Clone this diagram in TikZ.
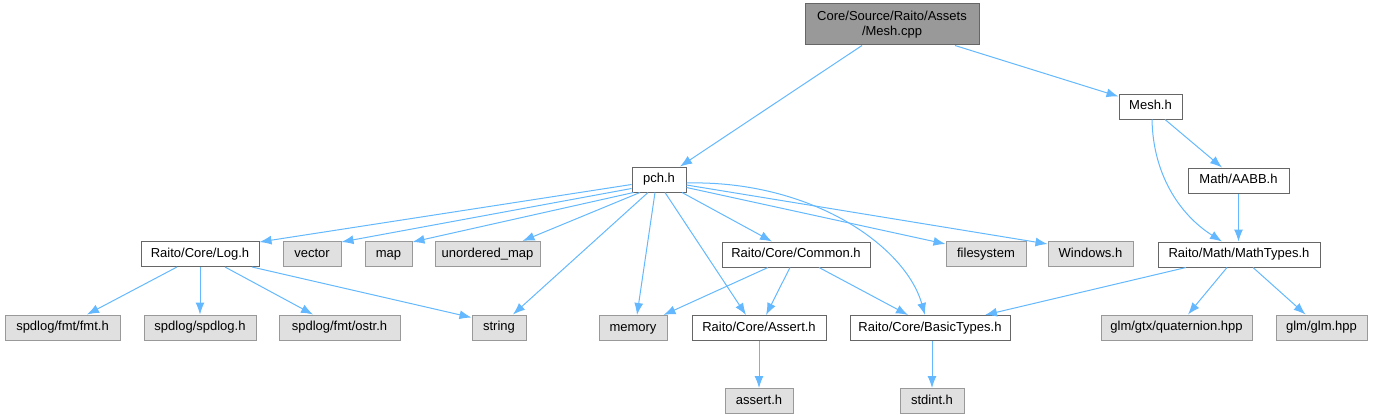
\documentclass[tikz,border=0pt]{standalone}
\usepackage{fontspec}
\setmainfont{Liberation Sans}
\usetikzlibrary{arrows.meta}
\definecolor{edgeblue}{HTML}{63B8FF}
\definecolor{bordA}{HTML}{666666}
\definecolor{bordB}{HTML}{999999}
\definecolor{fillB}{HTML}{E0E0E0}
\definecolor{fillR}{HTML}{999999}
\begin{document}
\begin{tikzpicture}[x=1pt,y=-1pt,
  base/.style={line width=1pt, inner sep=0pt, font=\fontsize{13}{15}\selectfont},
  box/.style={base, draw=bordA, fill=white, minimum height=25pt, text height=9.4pt, text depth=2.8pt},
  ext/.style={box, draw=bordB, fill=fillB},
  rootbox/.style={base, fill=fillR, draw=bordA, minimum height=41pt, align=center},
  edge/.style={draw=edgeblue, line width=1pt, -{Latex[length=12pt,width=9pt]}}]
\useasboundingbox (0,0) rectangle (1373,420);
% nodes
\node[rootbox, minimum width=174pt] (root) at (892,24.5) {Core/Source/Raito/Assets\\/Mesh.cpp};
\node[box, minimum width=54pt] (pch) at (659,179.5) {pch.h};
\node[box, minimum width=63pt] (mesh) at (1150.5,106.5) {Mesh.h};
\node[box, minimum width=101pt] (aabb) at (1238.5,180.5) {Math/AABB.h};
\node[box, minimum width=162pt] (mathtypes) at (1239,254.5) {Raito/Math/MathTypes.h};
\node[ext, minimum width=151pt] (quat) at (1176.5,327.5) {glm/gtx/quaternion.hpp};
\node[ext, minimum width=91pt] (glm) at (1321.5,327.5) {glm/glm.hpp};
\node[ext, minimum width=85pt] (windows) at (1090.5,254) {Windows.h};
\node[ext, minimum width=80pt] (filesystem) at (986,254) {filesystem};
\node[box, minimum width=118pt] (log) at (200,254) {Raito/Core/Log.h};
\node[ext, minimum width=58pt] (vector) at (312,254) {vector};
\node[ext, minimum width=47pt] (map) at (388.5,254) {map};
\node[ext, minimum width=105pt] (umap) at (487.5,254) {unordered\_map};
\node[box, minimum width=148pt] (common) at (796,254.5) {Raito/Core/Common.h};
\node[ext, minimum width=115pt] (fmt) at (62.5,327.5) {spdlog/fmt/fmt.h};
\node[ext, minimum width=112pt] (spdlog) at (200,327.5) {spdlog/spdlog.h};
\node[ext, minimum width=121pt] (ostr) at (339.5,327.5) {spdlog/fmt/ostr.h};
\node[ext, minimum width=54pt] (string) at (499,327.5) {string};
\node[ext, minimum width=68pt] (memory) at (633,328) {memory};
\node[box, minimum width=134pt] (assert) at (759,328) {Raito/Core/Assert.h};
\node[box, minimum width=160pt] (basic) at (930,328) {Raito/Core/BasicTypes.h};
\node[ext, minimum width=68pt] (asserth) at (759,401) {assert.h};
\node[ext, minimum width=64pt] (stdint) at (932,401) {stdint.h};
% edges
\draw[edge] ([xshift=-30]root.south) -- ([xshift=21]pch.north);
\draw[edge] ([xshift=63]root.south) -- ([yshift=-3]mesh.north west);
\draw[edge] ([xshift=14.5]mesh.south) -- ([xshift=-16.5]aabb.north);
\draw[edge] ([xshift=1.5]mesh.south) .. controls (1153,175) and (1180,215) .. ([xshift=-17]mathtypes.north);
\draw[edge] (aabb.south) -- (aabb.south |- mathtypes.north);
\draw[edge] ([xshift=-53]mathtypes.south) -- ([xshift=55]basic.north);
\draw[edge] ([xshift=-12]mathtypes.south) -- ([xshift=11.5]quat.north);
\draw[edge] ([xshift=14]mathtypes.south) -- ([xshift=-16]glm.north);
\draw[edge] ([yshift=-5]pch.west) -- ([yshift=-1]log.north east);
\draw[edge] ([yshift=-9]pch.west) -- ([yshift=-1]vector.north east);
\draw[edge] ([xshift=2]pch.south west) -- ([yshift=-1]map.north east);
\draw[edge] ([xshift=-19]pch.south) -- ([xshift=-18]umap.north east);
\draw[edge] ([xshift=-11]pch.south) -- ([xshift=14]string.north);
\draw[edge] ([xshift=-4]pch.south) -- ([xshift=4]memory.north);
\draw[edge] ([xshift=6]pch.south) -- ([xshift=-13]assert.north);
\draw[edge] ([xshift=23]pch.south) -- ([xshift=-24]common.north);
\draw[edge] ([yshift=-3.5]pch.east) .. controls (810,180) and (905,245) .. ([xshift=-5]basic.north);
\draw[edge] ([yshift=-8]pch.east) -- ([yshift=-3]filesystem.north west);
\draw[edge] ([yshift=-5.5]pch.east) -- ([yshift=-3]windows.north west);
\draw[edge] ([xshift=-23]log.south) -- ([xshift=24.5]fmt.north);
\draw[edge] (log.south) -- (spdlog.north);
\draw[edge] ([xshift=25]log.south) -- ([xshift=-26.5]ostr.north);
\draw[edge] ([xshift=52]log.south) -- ([yshift=-3]string.north west);
\draw[edge] ([xshift=-28]common.south) -- ([xshift=-4]memory.north east);
\draw[edge] ([xshift=-6]common.south) -- ([xshift=7]assert.north);
\draw[edge] ([xshift=23]common.south) -- ([xshift=-22]basic.north);
\draw[edge] (assert.south) -- (asserth.north);
\draw[edge] ([xshift=2]basic.south) -- (stdint.north);
\end{tikzpicture}
\end{document}
